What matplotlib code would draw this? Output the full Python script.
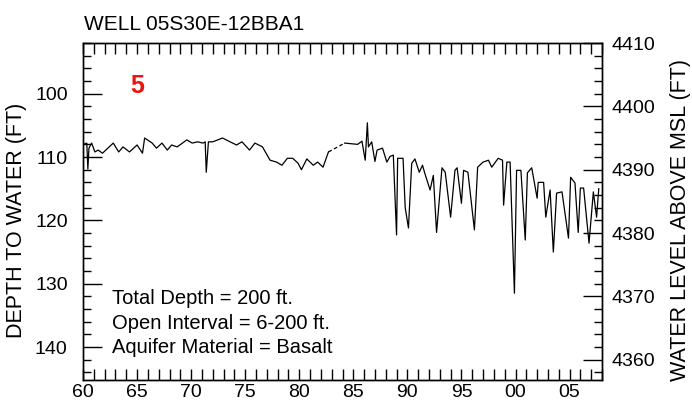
import numpy as np
import matplotlib.pyplot as plt
from matplotlib.ticker import MultipleLocator, FixedLocator

plt.rcParams['font.family'] = ['Liberation Sans', 'DejaVu Sans']

# depth to water (ft below land surface)
years = [1960.05, 1960.35, 1960.45, 1960.55, 1960.8, 1961.1, 1961.4, 1961.8, 1962.3,
         1962.8, 1963.3, 1963.7, 1964.3, 1965.0, 1965.5, 1965.7, 1966.4, 1966.8,
         1967.3, 1967.8, 1968.2, 1968.7, 1969.2, 1969.6, 1970.1, 1970.6, 1971.1,
         1971.3, 1971.4, 1971.6, 1972.0, 1972.9, 1973.6, 1974.2, 1974.7, 1975.4,
         1975.9, 1976.6, 1977.3, 1977.9, 1978.4, 1978.9, 1979.4, 1979.9, 1980.2,
         1980.7, 1981.3, 1981.7, 1982.2, 1982.7,
         1984.2, 1985.4, 1985.8, 1986.1, 1986.3, 1986.4, 1986.7, 1987.0, 1987.2,
         1987.7, 1988.1, 1988.4, 1988.7, 1989.0, 1989.1, 1989.6, 1989.8, 1990.1,
         1990.4, 1990.7, 1991.1, 1991.4, 1991.6, 1992.1, 1992.4, 1992.7, 1993.2,
         1993.5, 1994.0, 1994.4, 1994.6, 1995.0, 1995.2, 1995.6, 1996.2, 1996.5,
         1997.0, 1997.5, 1997.8, 1998.4, 1998.8, 1998.9, 1999.2, 1999.5, 1999.9,
         2000.1, 2000.5, 2000.9, 2001.1, 2001.5, 2002.0, 2002.1, 2002.6, 2002.8,
         2003.2, 2003.5, 2003.8, 2004.3, 2004.9, 2005.1, 2005.5, 2005.8, 2006.0,
         2006.3, 2006.8, 2007.2, 2007.5, 2007.7]
depth = [108.0, 107.8, 111.9, 108.6, 107.8, 109.2, 108.9, 109.4, 108.6,
         107.8, 109.2, 108.4, 109.2, 108.1, 109.4, 107.0, 107.8, 108.6,
         107.8, 108.9, 108.1, 108.4, 107.8, 107.3, 107.8, 107.6, 107.8,
         107.6, 112.4, 107.6, 107.6, 107.0, 107.6, 108.1, 107.6, 108.9,
         107.8, 108.4, 110.5, 110.8, 111.3, 110.2, 110.2, 111.0, 112.0,
         110.3, 111.3, 110.8, 111.6, 109.2,
         107.8, 108.0, 107.5, 110.5, 104.6, 108.4, 107.6, 110.7, 108.9,
         108.6, 110.8, 109.9, 109.7, 122.3, 110.2, 110.2, 118.0, 121.2,
         111.0, 110.3, 112.4, 111.3, 112.5, 115.2, 112.9, 121.9, 111.7,
         112.4, 119.5, 112.1, 111.7, 117.3, 112.1, 112.4, 121.5, 111.6,
         110.8, 110.5, 111.6, 110.2, 110.5, 117.6, 110.8, 110.8, 131.5,
         112.1, 112.1, 123.1, 112.5, 111.7, 116.5, 114.0, 114.0, 119.5,
         115.2, 125.0, 115.7, 115.5, 122.8, 113.2, 114.1, 121.9, 114.9,
         114.9, 123.6, 115.5, 119.5, 115.0]
# index where the record has a gap (drawn dashed)
gap_after = 49
land_surface = 4502.0

fig = plt.figure(figsize=(6.92, 4.09), dpi=100)
ax = fig.add_axes([83/692, 1 - 380/409, 519/692, 337/409])

ax.plot(years[:gap_after + 1], depth[:gap_after + 1], color='black', lw=0.9)
ax.plot(years[gap_after:gap_after + 2], depth[gap_after:gap_after + 2],
        color='black', lw=0.9, ls=(0, (3, 2)))
ax.plot(years[gap_after + 1:], depth[gap_after + 1:], color='black', lw=0.9)

ax.set_xlim(1960, 2008)
ax.set_ylim(145.2, 92)
ax.xaxis.set_major_locator(FixedLocator(np.arange(1960, 2006, 5)))
ax.xaxis.set_minor_locator(MultipleLocator(1))
ax.set_xticklabels([f"{y % 100:02d}" for y in range(1960, 2006, 5)])
ax.yaxis.set_major_locator(MultipleLocator(10))
ax.yaxis.set_minor_locator(MultipleLocator(2))

for s in ax.spines.values():
    s.set_linewidth(1.0)
ax.tick_params(axis='x', which='both', direction='in', top=True, length=8,
               width=1.0, labelsize=14, pad=3)
ax.tick_params(axis='y', which='major', direction='in', length=14, width=1.0,
               labelsize=14, pad=11)
ax.tick_params(axis='y', which='minor', direction='in', length=6, width=1.0)
ax.set_ylabel("DEPTH TO WATER (FT)", fontsize=15.5)
ax.yaxis.set_label_coords(-0.108, 0.475)

ax2 = ax.twinx()
ax2.set_ylim(land_surface - 145.2, land_surface - 92)
ax2.yaxis.set_major_locator(MultipleLocator(10))
ax2.yaxis.set_minor_locator(MultipleLocator(2))
ax2.tick_params(axis='y', which='major', direction='in', length=14, width=1.0,
                labelsize=14, pad=7)
ax2.tick_params(axis='y', which='minor', direction='in', length=6, width=1.0)
ax2.set_ylabel("WATER LEVEL ABOVE MSL (FT)", fontsize=15.5)
ax2.yaxis.set_label_coords(1.131, 0.475)
for s in ax2.spines.values():
    s.set_linewidth(1.0)

ax.text(1965.0, 98.8, "5", color='#ee1111', fontsize=18, fontweight='bold',
        ha='center', va='center')
info = ["Total Depth = 200 ft.", "Open Interval = 6-200 ft.",
        "Aquifer Material = Basalt"]
for i, line in enumerate(info):
    ax.text(1962.7, 132.4 + i * 3.85, line, fontsize=14.5, va='center', ha='left')

fig.text(84/692, 1 - 24/409, "WELL 05S30E-12BBA1", fontsize=15,
         ha='left', va='center')

fig.savefig("out.png", dpi=100)
